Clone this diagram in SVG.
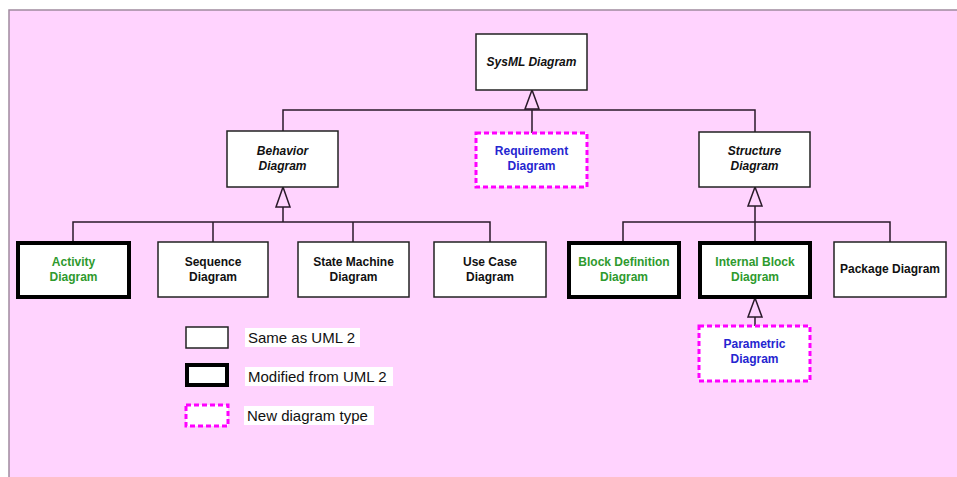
<svg xmlns="http://www.w3.org/2000/svg" width="957" height="477" viewBox="0 0 957 477">
<style>
.box{fill:#fff;stroke:#222;stroke-width:1.5}
.thick{fill:#fff;stroke:#000;stroke-width:4}
.new{fill:#fff;stroke:#ff00ff;stroke-width:3;stroke-dasharray:5 3}
.lbl{font-family:"Liberation Sans",Arial,sans-serif;font-size:12px;font-weight:bold;text-anchor:middle;fill:#111}
.it{font-style:italic}
.g{fill:#2e9a2e}
.b{fill:#2525d0}
.leg{font-family:"Liberation Sans",Arial,sans-serif;font-size:15px;fill:#111}
.conn{fill:none;stroke:#2a1a2a;stroke-width:1.5}
.tri{fill:#ffd3fe;stroke:#2a1a2a;stroke-width:1.5}
</style>
<rect x="0" y="0" width="957" height="477" fill="#fff"/>
<rect x="9" y="10" width="960" height="480" fill="#ffd3fe" stroke="#a08a9f" stroke-width="1.5"/>
<g id="connectors">
<path class="conn" d="M283 131V110H755V132M532 110V133"/>
<path class="conn" d="M73 242V222H490V242M213 222V242M353 222V242M283 207V222"/>
<path class="conn" d="M623 242V222H890V242M755 206V242"/>
<path class="conn" d="M755 317V326"/>
<polygon class="tri" points="532,90 525,109 539,109"/>
<polygon class="tri" points="283,187 276,207 290,207"/>
<polygon class="tri" points="755,187 748,206 762,206"/>
<polygon class="tri" points="755,298 748,317 762,317"/>
</g>
<g id="sysml"><rect class="box" x="476" y="34" width="111" height="56"/><text class="lbl it" x="531.5" y="66">SysML Diagram</text></g>
<g id="behavior"><rect class="box" x="227" y="131" width="111" height="56"/><text class="lbl it" x="282.5" y="155">Behavior</text><text class="lbl it" x="282.5" y="170">Diagram</text></g>
<g id="requirement"><rect class="new" x="476" y="133" width="111" height="54"/><text class="lbl b" x="531.5" y="155">Requirement</text><text class="lbl b" x="531.5" y="170">Diagram</text></g>
<g id="structure"><rect class="box" x="699" y="132" width="111" height="55"/><text class="lbl it" x="754.5" y="155">Structure</text><text class="lbl it" x="754.5" y="170">Diagram</text></g>
<g id="activity"><rect class="thick" x="18" y="243" width="111" height="54"/><text class="lbl g" x="73.5" y="266">Activity</text><text class="lbl g" x="73.5" y="281">Diagram</text></g>
<g id="sequence"><rect class="box" x="158" y="242" width="110" height="55"/><text class="lbl" x="213" y="266">Sequence</text><text class="lbl" x="213" y="281">Diagram</text></g>
<g id="statemachine"><rect class="box" x="298" y="242" width="111" height="55"/><text class="lbl" x="353.5" y="266">State Machine</text><text class="lbl" x="353.5" y="281">Diagram</text></g>
<g id="usecase"><rect class="box" x="434" y="242" width="112" height="55"/><text class="lbl" x="490" y="266">Use Case</text><text class="lbl" x="490" y="281">Diagram</text></g>
<g id="blockdef"><rect class="thick" x="569" y="243" width="110" height="54"/><text class="lbl g" x="624" y="266">Block Definition</text><text class="lbl g" x="624" y="281">Diagram</text></g>
<g id="internalblock"><rect class="thick" x="700" y="243" width="110" height="54"/><text class="lbl g" x="755" y="266">Internal Block</text><text class="lbl g" x="755" y="281">Diagram</text></g>
<g id="package"><rect class="box" x="834" y="242" width="112" height="55"/><text class="lbl" x="890" y="273">Package Diagram</text></g>
<g id="parametric"><rect class="new" x="699" y="326" width="111" height="55"/><text class="lbl b" x="754.5" y="348">Parametric</text><text class="lbl b" x="754.5" y="363">Diagram</text></g>
<g id="legend">
<rect class="box" x="186" y="327" width="42" height="21"/>
<rect x="245" y="328" width="115" height="19" fill="#fff"/>
<text class="leg" x="248" y="343">Same as UML 2</text>
<rect class="thick" x="187" y="365" width="40" height="20"/>
<rect x="245" y="367" width="148" height="19" fill="#fff"/>
<text class="leg" x="248" y="382">Modified from UML 2</text>
<rect class="new" x="186" y="405" width="42" height="21"/>
<rect x="244" y="406" width="130" height="19" fill="#fff"/>
<text class="leg" x="247" y="421">New diagram type</text>
</g>
</svg>
